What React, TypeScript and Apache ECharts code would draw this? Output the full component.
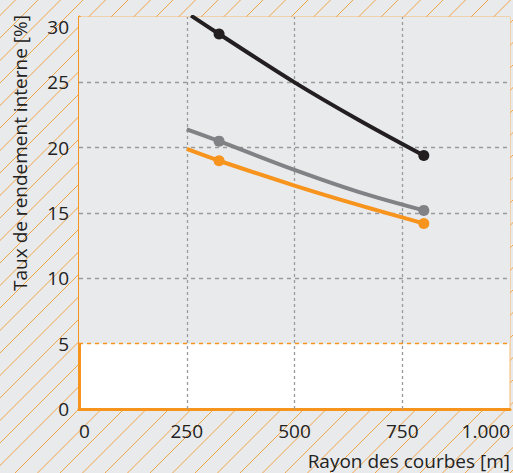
import React, { useEffect, useRef } from "react";
import * as echarts from "echarts";

const xTicks = [0, 250, 500, 750, 1000];
const yTicks = [0, 5, 10, 15, 20, 25, 30];
const xGridLines = [250, 500, 750];
const yGridLines = [10, 15, 20, 25];
const thresholdY = 5;

const blackX = [260, 325, 500, 650, 800];
const blackY = [30.1, 28.7, 25.0, 22.1, 19.4];
const grayX = [250, 325, 500, 650, 800];
const grayY = [21.4, 20.5, 18.3, 16.6, 15.2];
const orangeX = [250, 325, 500, 650, 800];
const orangeY = [19.9, 19.0, 17.1, 15.6, 14.2];
const markerX = [325, 800];

const xTitle = "Rayon des courbes [m]";
const yTitle = "Taux de rendement interne [%]";

const FONT = "Open Sans";
const ORANGE = "#f7941d";
const GRID_GRAY = "#9a9a9a";

function buildData(xs: number[], ys: number[]) {
  return xs.map((x, i) => ({
    value: [x, ys[i]],
    symbol: markerX.includes(x) ? "circle" : "none",
  }));
}

export default function App() {
  const ref = useRef<HTMLDivElement>(null);
  useEffect(() => {
    if (!ref.current) return;
    const chart = echarts.init(ref.current, null, { renderer: "svg" });
    const H = 473;
    const hatch: any[] = [];
    for (let k = -25; k < 25; k++) {
      const xb = 15 + k * 22.5;
      hatch.push({
        type: "line",
        z: -10,
        silent: true,
        shape: { x1: xb, y1: H, x2: xb + H, y2: 0 },
        style: { stroke: "#f0a448", lineWidth: 1 },
      });
    }
    const mkSeries = (name: string, xs: number[], ys: number[], color: string) => ({
      name,
      type: "line",
      data: buildData(xs, ys),
      smooth: 0.35,
      symbolSize: 11,
      showSymbol: true,
      lineStyle: { color, width: 4 },
      itemStyle: { color },
      clip: true,
      z: 5,
    });
    chart.setOption({
      animation: false,
      backgroundColor: "#e9eaec",
      graphic: [
        ...hatch,
        {
          type: "text",
          x: 20,
          y: 153,
          rotation: Math.PI / 2,
          z: 10,
          style: {
            text: yTitle,
            align: "center",
            verticalAlign: "middle",
            fontFamily: FONT,
            fontSize: 19,
            fill: "#222",
          },
        },
        {
          type: "text",
          x: 510,
          y: 461,
          z: 10,
          style: {
            text: xTitle,
            align: "right",
            verticalAlign: "middle",
            fontFamily: FONT,
            fontSize: 19,
            fill: "#222",
          },
        },
      ],
      grid: {
        left: 79,
        right: 2,
        top: 17,
        bottom: 64,
        show: true,
        backgroundColor: "#ffffff",
        borderColor: "#f7b96e",
        borderWidth: 1,
      },
      xAxis: {
        type: "value",
        min: xTicks[0],
        max: xTicks[xTicks.length - 1],
        interval: 250,
        axisLine: { show: true, lineStyle: { color: ORANGE, width: 3 } },
        axisTick: { show: false },
        axisLabel: {
          margin: 12,
          fontFamily: FONT,
          fontSize: 19,
          color: "#222",
          alignMinLabel: "left",
          alignMaxLabel: "right",
          formatter: (v: number) => (v >= 1000 ? "1.000" : String(v)),
        },
        splitLine: { show: false },
      },
      yAxis: {
        type: "value",
        min: yTicks[0],
        max: yTicks[yTicks.length - 1],
        interval: 5,
        axisLine: { show: true, lineStyle: { color: ORANGE, width: 3 } },
        axisTick: { show: false },
        axisLabel: {
          margin: 10,
          fontFamily: FONT,
          fontSize: 19,
          color: "#222",
          verticalAlignMaxLabel: "top",
        },
        splitLine: { show: false },
      },
      series: [
        {
          type: "line",
          data: [],
          silent: true,
          z: 1,
          markArea: {
            silent: true,
            itemStyle: { color: "#e9eaec" },
            data: [[{ yAxis: thresholdY }, { yAxis: yTicks[yTicks.length - 1] }]],
          },
        },
        {
          type: "line",
          data: [],
          silent: true,
          z: 2,
          markLine: {
            silent: true,
            symbol: "none",
            label: { show: false },
            lineStyle: { color: GRID_GRAY, type: [3, 3], width: 1.3 },
            data: [
              ...xGridLines.map((x) => ({ xAxis: x })),
              ...yGridLines.map((y) => ({ yAxis: y, lineStyle: { type: [4, 4] } })),
            ],
          },
        },
        {
          type: "line",
          data: [],
          silent: true,
          z: 3,
          markLine: {
            silent: true,
            symbol: "none",
            label: { show: false },
            lineStyle: { color: ORANGE, type: [4, 4], width: 1.3 },
            data: [{ yAxis: thresholdY }],
          },
        },
        mkSeries("black", blackX, blackY, "#231f20"),
        mkSeries("gray", grayX, grayY, "#808285"),
        mkSeries("orange", orangeX, orangeY, ORANGE),
      ],
    });
    return () => chart.dispose();
  }, []);
  return (
    <div
      ref={ref}
      style={{ position: "fixed", left: 0, top: 0, width: 513, height: 473 }}
    />
  );
}
